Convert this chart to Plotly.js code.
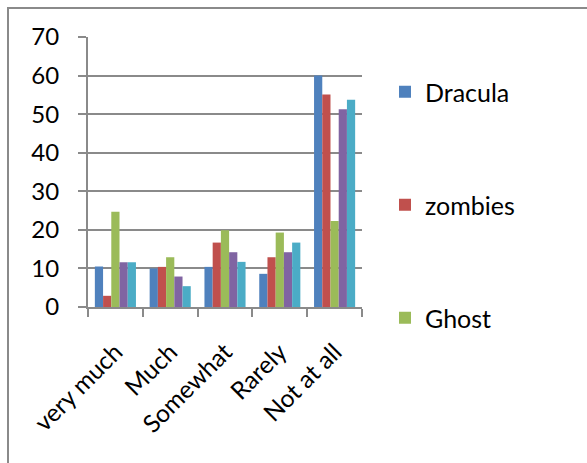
<!DOCTYPE html>
<html>
<head>
<meta charset="utf-8">
<script src="https://cdn.plot.ly/plotly-3.0.1.min.js"></script>
<style>
  html, body { margin: 0; padding: 0; background: #fff; }
  #chart { width: 587px; height: 463px; }
</style>
</head>
<body>
<div id="chart"></div>
<script>
// Survey answers per creature, by how much it frightens
const categories = ['very much', 'Much', 'Somewhat', 'Rarely', 'Not at all'];

const dracula = [10.5, 10.0, 10.4, 8.6, 60.0];
const zombies = [2.9, 10.4, 16.7, 12.9, 55.1];
const ghost   = [24.7, 12.9, 19.9, 19.3, 22.3];
const series4 = [11.6, 7.9, 14.2, 14.2, 51.3];
const series5 = [11.6, 5.4, 11.7, 16.7, 53.7];

const yTicks = [0, 10, 20, 30, 40, 50, 60, 70];

const FONT = 'Lato, "Open Sans", "DejaVu Sans", sans-serif';
const GRID = '#8a8a8a';

// plot-area geometry in pixels
const W = 587, H = 463;
const M = { l: 88, r: 225, t: 37, b: 156 };
const PW = W - M.l - M.r, PH = H - M.t - M.b;
const px = x => (x - M.l) / PW;          // page x -> paper x
const py = y => (H - M.b - y) / PH;      // page y -> paper y

function bar(name, values, color, legend, show) {
  return {
    type: 'bar', name: name, x: categories, y: values,
    marker: { color: color, line: { width: 0 } },
    showlegend: show, legend: legend,
    hoverinfo: 'x+y+name'
  };
}

const traces = [
  bar('Dracula', dracula, '#4F81BD', 'legend', true),
  bar('zombies', zombies, '#C0504D', 'legend2', true),
  bar('Ghost', ghost, '#9BBB59', 'legend3', true),
  bar('Series 4', series4, '#8064A2', 'legend', false),
  bar('Series 5', series5, '#4BACC6', 'legend', false)
];

function legendAt(yPage) {
  return {
    x: px(385), xanchor: 'left', xref: 'paper',
    y: py(yPage), yanchor: 'middle', yref: 'paper',
    bgcolor: 'rgba(0,0,0,0)', borderwidth: 0,
    font: { family: FONT, size: 25, color: '#000' }
  };
}

const layout = {
  width: W, height: H,
  margin: M,
  paper_bgcolor: '#fff', plot_bgcolor: '#fff',
  font: { family: FONT, color: '#000' },
  barmode: 'group',
  bargap: 0.25, bargroupgap: 0,
  xaxis: {
    type: 'category',
    showline: true, linecolor: GRID, linewidth: 2,
    showgrid: false, zeroline: false,
    ticks: 'outside', tickson: 'boundaries', ticklen: 8, tickwidth: 2, tickcolor: GRID,
    tickangle: -45,
    ticklabelstandoff: 19,
    tickfont: { family: FONT, size: 24.5, color: '#000' }
  },
  yaxis: {
    range: [0, 70], tickvals: yTicks, ticktext: yTicks.map(String),
    showline: true, linecolor: GRID, linewidth: 2,
    showgrid: true, gridcolor: GRID, gridwidth: 2,
    zeroline: false,
    ticks: 'outside', ticklen: 8, tickwidth: 2, tickcolor: GRID,
    ticklabelstandoff: 14,
    tickfont: { family: FONT, size: 24, color: '#000' }
  },
  showlegend: true,
  legend: legendAt(92),
  legend2: legendAt(205),
  legend3: legendAt(318),
  shapes: [{
    // chart frame, open to the right and bottom
    type: 'path', xref: 'paper', yref: 'paper',
    path: 'M' + px(8) + ',' + py(470) + ' L' + px(8) + ',' + py(8) + ' L' + px(590) + ',' + py(8),
    line: { color: '#8a8a8a', width: 2 }
  }]
};

Plotly.newPlot('chart', traces, layout, { displayModeBar: false, staticPlot: true });
</script>
</body>
</html>
